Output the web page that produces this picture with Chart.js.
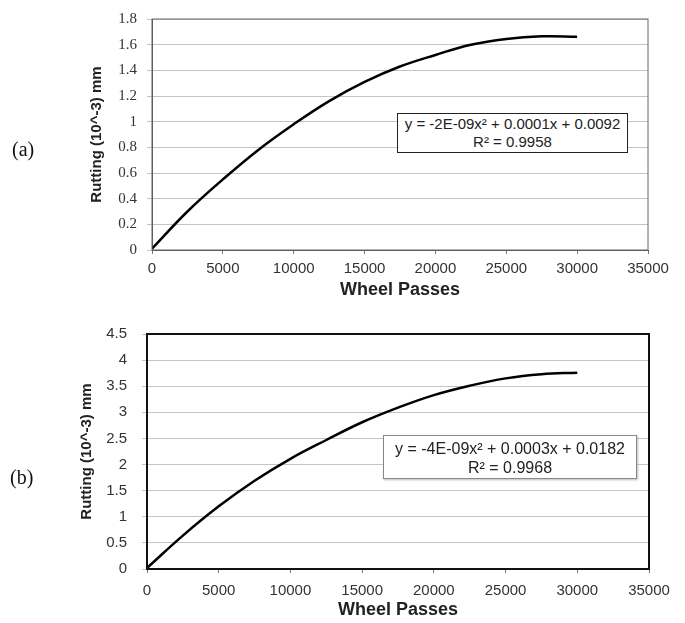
<!DOCTYPE html>
<html>
<head>
<meta charset="utf-8">
<script src="https://cdn.jsdelivr.net/npm/chart.js@4.4.0/dist/chart.umd.min.js"></script>
<style>
  body { margin: 0; background: #fff; }
  #wrap { position: relative; width: 685px; height: 623px; overflow: hidden; }
  canvas { position: absolute; left: 0; }
  .tag { position: absolute; font-family: "Liberation Serif", serif; font-size: 20px; color: #111; }
  .eq { position: absolute; background: #fff; text-align: center; font-family: "Liberation Sans", sans-serif; color: #222; box-sizing: border-box; }
</style>
</head>
<body>
<div id="wrap">
  <canvas id="chartA" width="685" height="305" style="top:0"></canvas>
  <canvas id="chartB" width="685" height="313" style="top:310px"></canvas>
  <div class="tag" style="left:12px; top:138px">(a)</div>
  <div class="tag" style="left:10px; top:466px">(b)</div>
  <div class="eq" id="eqA" style="left:397px; top:113px; width:231px; height:40px; border:1.5px solid #222; font-size:15px; line-height:18px; padding-top:1px"></div>
  <div class="eq" id="eqB" style="left:383px; top:435px; width:254px; height:44px; border:1px solid #888; box-shadow:1px 1px 2px #bbb; font-size:16px; line-height:19px; padding-top:3px"></div>
</div>
<script>
// ---------------- data ----------------
var passes  = [0, 2500, 5000, 7500, 10000, 12500, 15000, 17500, 20000, 22500, 25000, 27500, 30000];
var ruttingA = [0.01, 0.30, 0.55, 0.78, 0.98, 1.16, 1.31, 1.43, 1.52, 1.60, 1.645, 1.665, 1.662];
var ruttingB = [0.02, 0.64, 1.20, 1.69, 2.11, 2.47, 2.81, 3.09, 3.33, 3.51, 3.65, 3.73, 3.76];

var eqTextA = ["y = -2E-09x\u00b2 + 0.0001x + 0.0092", "R\u00b2 = 0.9958"];
var eqTextB = ["y = -4E-09x\u00b2 + 0.0003x + 0.0182", "R\u00b2 = 0.9968"];

document.getElementById("eqA").innerHTML = eqTextA.join("<br>");
document.getElementById("eqB").innerHTML = eqTextB.join("<br>");

// frame round the plot area
var framePlugin = {
    id: 'frame',
    afterDraw: function(chart, args, opts) {
        var a = chart.chartArea, ctx = chart.ctx;
        ctx.save();
        ctx.strokeStyle = opts.color;
        ctx.lineWidth = opts.width;
        ctx.strokeRect(a.left, a.top, a.right - a.left, a.bottom - a.top);
        ctx.restore();
    }
};

function makeChart(id, values, o) {
    var pts = passes.map(function(p, i) { return {x: p, y: values[i]}; });
    return new Chart(document.getElementById(id).getContext('2d'), {
        type: 'line',
        data: {
            datasets: [{
                data: pts,
                borderColor: '#000',
                borderWidth: 2.5,
                pointRadius: 0,
                fill: false,
                tension: 0.4
            }]
        },
        options: {
            responsive: false,
            animation: false,
            layout: { padding: { top: o.top, right: o.right, left: 0, bottom: o.bottom } },
            plugins: {
                legend: { display: false },
                tooltip: { enabled: false },
                frame: { color: o.frameColor, width: o.frameWidth }
            },
            scales: {
                x: {
                    type: 'linear',
                    min: 0, max: 35000,
                    ticks: {
                        stepSize: 5000,
                        padding: o.xPad,
                        color: '#333',
                        font: { family: 'Liberation Sans', size: 15 },
                        callback: function(v) { return String(v); }
                    },
                    grid: { drawOnChartArea: false, tickLength: 4, color: '#777' },
                    border: { color: '#555', width: 1 },
                    title: {
                        display: true,
                        text: 'Wheel Passes',
                        color: '#222',
                        font: { family: 'Liberation Sans', size: 18, weight: 'bold' },
                        padding: { top: 0, bottom: 0 }
                    },
                    afterFit: function(s) { s.height = o.xHeight; }
                },
                y: {
                    min: 0, max: o.yMax,
                    ticks: {
                        stepSize: o.yStep,
                        padding: o.yPad,
                        color: '#333',
                        font: o.yFont,
                        callback: function(v) { return String(Number(v.toFixed(2))); }
                    },
                    grid: { color: '#c4c4c4', lineWidth: 1, tickLength: 5 },
                    border: { color: '#555', width: 1 },
                    title: {
                        display: true,
                        text: 'Rutting (10^-3) mm',
                        color: '#222',
                        font: { family: 'Liberation Sans', size: 15, weight: 'bold' },
                        padding: { top: o.titleX, bottom: 0 }
                    },
                    afterFit: function(s) { s.width = o.yWidth; }
                }
            }
        },
        plugins: [framePlugin]
    });
}

makeChart('chartA', ruttingA, {
    top: 15, right: 37, bottom: 4, xHeight: 51, yWidth: 152,
    yMax: 1.8, yStep: 0.2, yPad: 10, xPad: 6, titleX: 88,
    yFont: { family: 'Liberation Serif', size: 15 },
    frameColor: '#666', frameWidth: 1
});

makeChart('chartB', ruttingB, {
    top: 23, right: 36, bottom: 2, xHeight: 52, yWidth: 147,
    yMax: 4.5, yStep: 0.5, yPad: 15, xPad: 9, titleX: 78,
    yFont: { family: 'Liberation Sans', size: 15 },
    frameColor: '#111', frameWidth: 2
});
</script>
</body>
</html>
